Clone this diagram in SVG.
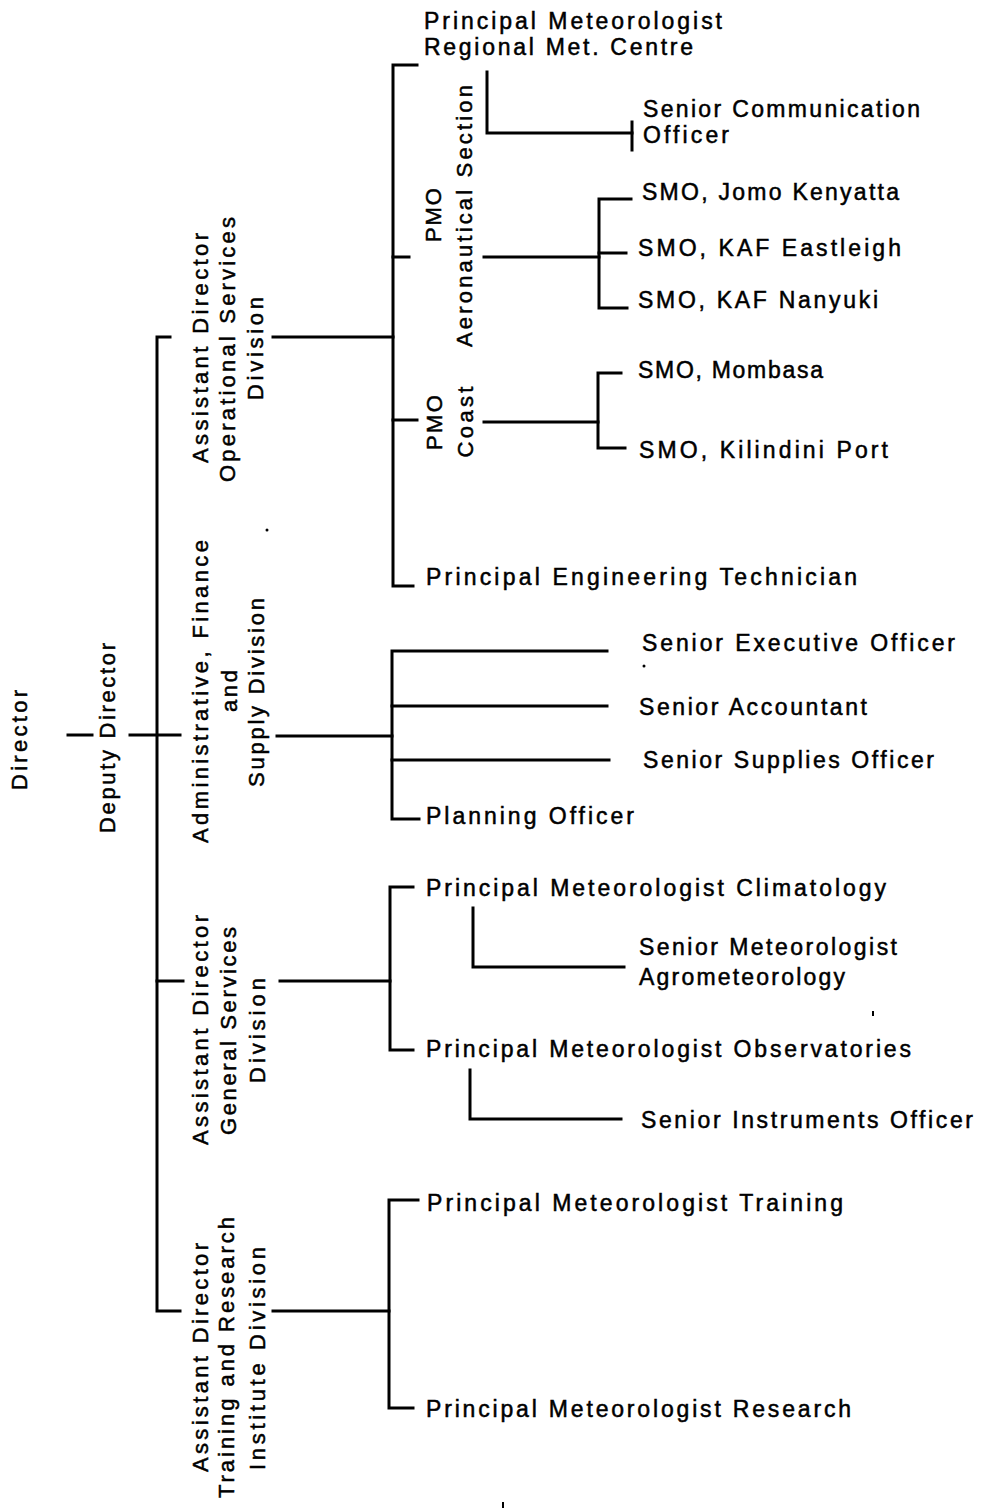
<svg xmlns="http://www.w3.org/2000/svg" width="984" height="1511" viewBox="0 0 984 1511">
<style>
text { font-family: "Liberation Sans", Arial, sans-serif; fill: #000; stroke: #000; stroke-width: 0.5; }
.h { font-size: 23px; }
.v { font-size: 22px; text-anchor: middle; }
.ln { fill: none; stroke: #000; stroke-width: 3; stroke-linecap: square; stroke-linejoin: miter; }
</style>
<rect x="0" y="0" width="984" height="1511" fill="#fff"/>
<g id="connectors">
<path class="ln" d="M68,735 H92"/>
<path class="ln" d="M130,735 H180"/>
<path class="ln" d="M170,337 H157 V1311 H180"/>
<path class="ln" d="M157,981 H183"/>
<path class="ln" d="M273,337 H393"/>
<path class="ln" d="M417,65 H393 V586 H413"/>
<path class="ln" d="M393,257 H409"/>
<path class="ln" d="M393,420 H417"/>
<path class="ln" d="M487,72 V133 H632"/>
<path class="ln" d="M632,122 V150"/>
<path class="ln" d="M484,257 H599"/>
<path class="ln" d="M631,199 H599 V308 H627"/>
<path class="ln" d="M599,253 H626"/>
<path class="ln" d="M484,422 H598"/>
<path class="ln" d="M621,373 H598 V448 H625"/>
<path class="ln" d="M277,736 H392"/>
<path class="ln" d="M607,651 H392 V819 H419"/>
<path class="ln" d="M392,706 H607"/>
<path class="ln" d="M392,760 H609"/>
<path class="ln" d="M280,981 H390"/>
<path class="ln" d="M413,887 H390 V1050 H413"/>
<path class="ln" d="M473,908 V967 H624"/>
<path class="ln" d="M470,1070 V1119 H621"/>
<path class="ln" d="M273,1311 H389"/>
<path class="ln" d="M418,1200 H389 V1408 H413"/>
</g>
<g id="specks" fill="#000">
<circle cx="267" cy="530" r="1.5"/>
<circle cx="644" cy="666" r="1.5"/>
<rect x="872" y="1011" width="2" height="5"/>
<rect x="502" y="1502" width="2" height="6"/>
</g>
<g id="director"><text class="v" transform="translate(27,740) rotate(-90)" textLength="100" lengthAdjust="spacing">Director</text></g>
<g id="deputy"><text class="v" transform="translate(115,738) rotate(-90)" textLength="190" lengthAdjust="spacing">Deputy Director</text></g>
<g id="div-operational">
<text class="v" transform="translate(208,348) rotate(-90)" textLength="230" lengthAdjust="spacing">Assistant Director</text>
<text class="v" transform="translate(235,349.5) rotate(-90)" textLength="265" lengthAdjust="spacing">Operational Services</text>
<text class="v" transform="translate(263,348.5) rotate(-90)" textLength="103" lengthAdjust="spacing">Division</text>
</g>
<g id="div-admin">
<text class="v" transform="translate(208,691.5) rotate(-90)" textLength="303" lengthAdjust="spacing">Administrative, Finance</text>
<text class="v" transform="translate(237,691) rotate(-90)" textLength="42" lengthAdjust="spacing">and</text>
<text class="v" transform="translate(264,692.5) rotate(-90)" textLength="189" lengthAdjust="spacing">Supply Division</text>
</g>
<g id="div-general">
<text class="v" transform="translate(208,1030) rotate(-90)" textLength="230" lengthAdjust="spacing">Assistant Director</text>
<text class="v" transform="translate(236,1031) rotate(-90)" textLength="208" lengthAdjust="spacing">General Services</text>
<text class="v" transform="translate(265,1030.5) rotate(-90)" textLength="105" lengthAdjust="spacing">Division</text>
</g>
<g id="div-training">
<text class="v" transform="translate(208,1357.5) rotate(-90)" textLength="229" lengthAdjust="spacing">Assistant Director</text>
<text class="v" transform="translate(234,1357.5) rotate(-90)" textLength="281" lengthAdjust="spacing">Training and Research</text>
<text class="v" transform="translate(265,1358.5) rotate(-90)" textLength="223" lengthAdjust="spacing">Institute Division</text>
</g>
<g id="pm-regional">
<text class="h" x="424" y="29" textLength="298" lengthAdjust="spacing">Principal Meteorologist</text>
<text class="h" x="424" y="55" textLength="269" lengthAdjust="spacing">Regional Met. Centre</text>
</g>
<g id="sco">
<text class="h" x="643" y="117" textLength="277" lengthAdjust="spacing">Senior Communication</text>
<text class="h" x="643" y="143" textLength="86" lengthAdjust="spacing">Officer</text>
</g>
<g id="pmo-aero">
<text class="v" transform="translate(441,215) rotate(-90)" textLength="54" lengthAdjust="spacing">PMO</text>
<text class="v" transform="translate(472,216) rotate(-90)" textLength="262" lengthAdjust="spacing">Aeronautical Section</text>
</g>
<g id="smo-jk"><text class="h" x="642" y="200" textLength="257" lengthAdjust="spacing">SMO, Jomo Kenyatta</text></g>
<g id="smo-ea"><text class="h" x="638" y="256" textLength="263" lengthAdjust="spacing">SMO, KAF Eastleigh</text></g>
<g id="smo-na"><text class="h" x="638" y="308" textLength="240" lengthAdjust="spacing">SMO, KAF Nanyuki</text></g>
<g id="pmo-coast">
<text class="v" transform="translate(442,422.5) rotate(-90)" textLength="55" lengthAdjust="spacing">PMO</text>
<text class="v" transform="translate(473,422) rotate(-90)" textLength="71" lengthAdjust="spacing">Coast</text>
</g>
<g id="smo-mo"><text class="h" x="638" y="378" textLength="185" lengthAdjust="spacing">SMO, Mombasa</text></g>
<g id="smo-ki"><text class="h" x="639" y="458" textLength="249" lengthAdjust="spacing">SMO, Kilindini Port</text></g>
<g id="pet"><text class="h" x="426" y="585" textLength="431" lengthAdjust="spacing">Principal Engineering Technician</text></g>
<g id="seo"><text class="h" x="642" y="651" textLength="313" lengthAdjust="spacing">Senior Executive Officer</text></g>
<g id="sa"><text class="h" x="639" y="715" textLength="228" lengthAdjust="spacing">Senior Accountant</text></g>
<g id="sso"><text class="h" x="643" y="768" textLength="291" lengthAdjust="spacing">Senior Supplies Officer</text></g>
<g id="po"><text class="h" x="426" y="824" textLength="208" lengthAdjust="spacing">Planning Officer</text></g>
<g id="pm-clim"><text class="h" x="426" y="896" textLength="460" lengthAdjust="spacing">Principal Meteorologist Climatology</text></g>
<g id="sm-agro">
<text class="h" x="639" y="955" textLength="258" lengthAdjust="spacing">Senior Meteorologist</text>
<text class="h" x="639" y="985" textLength="206" lengthAdjust="spacing">Agrometeorology</text>
</g>
<g id="pm-obs"><text class="h" x="426" y="1057" textLength="485" lengthAdjust="spacing">Principal Meteorologist Observatories</text></g>
<g id="sio"><text class="h" x="641" y="1128" textLength="332" lengthAdjust="spacing">Senior Instruments Officer</text></g>
<g id="pm-train"><text class="h" x="427" y="1211" textLength="416" lengthAdjust="spacing">Principal Meteorologist Training</text></g>
<g id="pm-res"><text class="h" x="426" y="1417" textLength="425" lengthAdjust="spacing">Principal Meteorologist Research</text></g>
</svg>
